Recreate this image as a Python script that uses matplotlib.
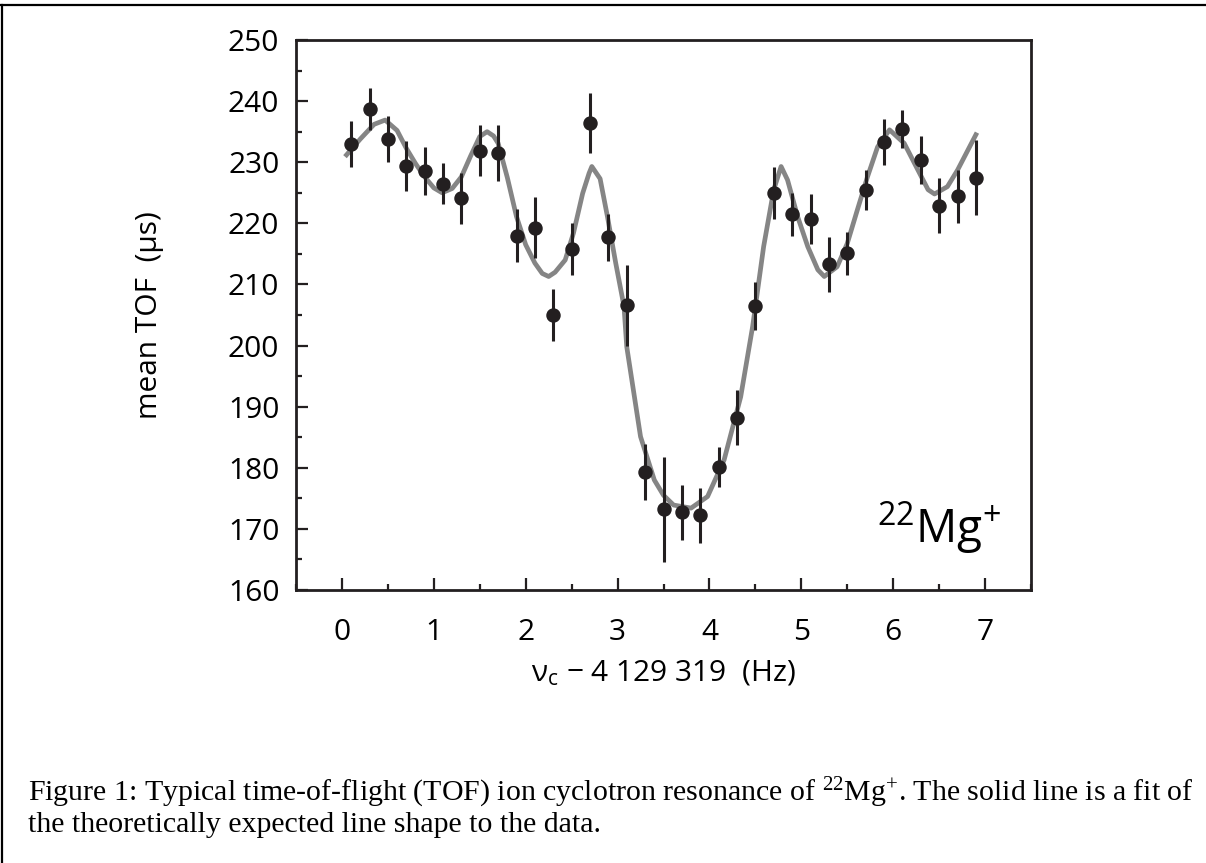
# TOF ion cyclotron resonance of 22Mg+
import matplotlib
matplotlib.use("Agg")
import matplotlib.pyplot as plt
from matplotlib.lines import Line2D
from matplotlib.ticker import MultipleLocator

plt.rcParams['font.family'] = ['Open Sans', 'DejaVu Sans']
plt.rcParams['mathtext.fontset'] = 'custom'
plt.rcParams['mathtext.rm'] = 'Liberation Serif'
plt.rcParams['mathtext.sf'] = 'Open Sans'

# 测量点: 频率偏移 (Hz), 平均飞行时间 (us), 误差
freq = [0.1, 0.3, 0.5, 0.7, 0.9, 1.1, 1.3, 1.5, 1.7, 1.9, 2.1, 2.3,
        2.5, 2.7, 2.9, 3.1, 3.3, 3.5, 3.7, 3.9, 4.1, 4.3, 4.5, 4.7,
        4.9, 5.1, 5.3, 5.5, 5.7, 5.9, 6.1, 6.3, 6.5, 6.7, 6.9]
tof = [233.0, 238.7, 233.8, 229.4, 228.6, 226.5, 224.1, 231.9, 231.5, 218.0,
       219.3, 205.0, 215.8, 236.4, 217.7, 206.6, 179.3, 173.2, 172.7, 172.2,
       180.1, 188.2, 206.5, 225.0, 221.5, 220.7, 213.3, 215.1, 225.5, 233.3,
       235.4, 230.4, 222.9, 224.4, 227.5]
err = [3.8, 3.5, 3.7, 4.1, 3.9, 3.4, 4.2, 4.2, 4.6, 4.4,
       5.0, 4.2, 4.2, 4.9, 3.8, 6.6, 4.6, 8.6, 4.5, 4.5,
       3.3, 4.5, 3.9, 4.3, 3.5, 4.1, 4.5, 3.5, 3.3, 3.8,
       3.1, 3.9, 4.5, 4.3, 6.1]

# 拟合曲线 (从图上读出的点)
fit_x = [0.05, 0.2, 0.35, 0.47, 0.6, 0.7, 0.8, 0.9, 1.0, 1.09, 1.2, 1.3,
         1.4, 1.5, 1.58, 1.65, 1.7, 1.8, 1.9, 2.0, 2.1, 2.18, 2.25, 2.32,
         2.43, 2.52, 2.62, 2.69, 2.72, 2.81, 2.89, 2.98, 3.07, 3.1, 3.25,
         3.4, 3.5, 3.61, 3.8, 3.98, 4.16, 4.34, 4.47, 4.59, 4.7, 4.78,
         4.85, 4.96, 5.07, 5.18, 5.25, 5.39, 5.5, 5.61, 5.72, 5.83, 5.96,
         6.12, 6.27, 6.38, 6.45, 6.59, 6.7, 6.9]
fit_y = [231.2, 233.8, 236.2, 236.9, 235.2, 232.3, 229.8, 227.6, 225.8, 225.0,
         225.7, 227.6, 231.0, 234.2, 235.0, 234.3, 233.1, 227.5, 221.1, 216.5,
         213.5, 211.8, 211.3, 212.0, 214.0, 218.4, 224.9, 228.2, 229.3, 227.3,
         221.1, 213.5, 206.4, 199.8, 185.1, 178.0, 175.5, 173.9, 173.4, 175.3,
         181.3, 191.6, 203.1, 216.2, 225.5, 229.3, 227.1, 221.1, 216.2, 212.4,
         211.3, 212.9, 216.7, 222.2, 227.6, 232.5, 235.3, 233.1, 228.7, 225.5,
         224.8, 226.0, 228.7, 234.5]

ink = '#231f20'

fig = plt.figure(figsize=(12.06, 8.63), dpi=100)
ax = fig.add_axes([296 / 1206, 1 - 590 / 863, 735 / 1206, 550 / 863])

ax.plot(fit_x, fit_y, color='#858585', lw=3.4, solid_joinstyle='round', zorder=2)
ax.errorbar(freq, tof, yerr=err, fmt='o', color=ink, ms=9.4, elinewidth=2.2,
            capsize=0, zorder=3)

ax.set_xlim(-0.5, 7.5)
ax.set_ylim(160, 250)
ax.set_xticks(range(8))
ax.set_yticks(range(160, 251, 10))
ax.xaxis.set_minor_locator(MultipleLocator(0.5))
ax.yaxis.set_minor_locator(MultipleLocator(5))
ax.tick_params(which='both', direction='in', color=ink, width=1.6,
               labelsize=21.5, labelcolor='black')
ax.tick_params(which='major', length=8.5)
ax.tick_params(which='minor', length=4.3)
ax.tick_params(axis='x', pad=20)
ax.tick_params(axis='y', pad=12)
for s in ax.spines.values():
    s.set_color(ink)
    s.set_linewidth(2)

ax.set_xlabel(r'$\mathsf{\nu_{c}}$ − 4 129 319  (Hz)', fontsize=21.5)
ax.set_ylabel('mean TOF  (µs)', fontsize=21.5)
ax.xaxis.set_label_coords(0.5, -0.125)
ax.yaxis.set_label_coords(-0.18, 0.5)

ax.text(0.79, 0.085, r'$\mathsf{^{22}Mg^{+}}$', transform=ax.transAxes,
        fontsize=33, color='black')

# 图注
cap = ('Figure 1: Typical time-of-flight (TOF) ion cyclotron resonance of '
       r'$\mathrm{^{22}Mg^{+}}$. The solid line is a fit of' + '\n'
       'the theoretically expected line shape to the data.')
fig.text(28 / 1206, 1 - 776 / 863, cap, family='Liberation Serif',
         fontsize=21.5, va='top', ha='left', linespacing=1.08)

# 外框
fig.add_artist(Line2D([0, 1], [1 - 5 / 863] * 2, transform=fig.transFigure,
                      color='black', lw=1.6))
fig.add_artist(Line2D([1.5 / 1206] * 2, [0, 1 - 5 / 863],
                      transform=fig.transFigure, color='black', lw=1.6))

fig.savefig('out.png', dpi=100)
